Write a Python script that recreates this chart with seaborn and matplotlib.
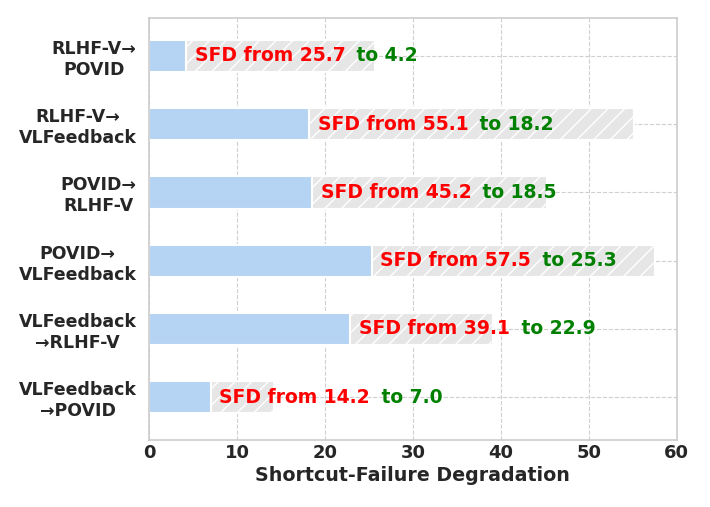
import matplotlib
matplotlib.use("Agg")
import matplotlib.pyplot as plt
import seaborn as sns
import pandas as pd

categories = ["RLHF-V→\nPOVID", "RLHF-V→\nVLFeedback", "POVID→\nRLHF-V",
              "POVID→\nVLFeedback", "VLFeedback\n→RLHF-V", "VLFeedback\n→POVID"]
sfd_before = [25.7, 55.1, 45.2, 57.5, 39.1, 14.2]
sfd_after = [4.2, 18.2, 18.5, 25.3, 22.9, 7.0]

df = pd.DataFrame({"cat": categories, "before": sfd_before, "after": sfd_after})

sns.set_theme(style="whitegrid")
plt.rcParams["font.family"] = ["DejaVu Sans"]
plt.rcParams["hatch.color"] = "white"
plt.rcParams["hatch.linewidth"] = 1.0

fig, ax = plt.subplots(figsize=(7.1, 5.07), dpi=100)
fig.subplots_adjust(left=0.21, right=0.953, top=0.965, bottom=0.133)

sns.barplot(data=df, y="cat", x="before", orient="h", color="#e6e6e6",
            width=0.47, edgecolor="white", linewidth=1.5, hatch="//", ax=ax,
            saturation=1)
sns.barplot(data=df, y="cat", x="after", orient="h", color="#b5d4f4",
            width=0.47, edgecolor="white", linewidth=1.5, ax=ax, saturation=1)

for i, (b, a) in enumerate(zip(sfd_before, sfd_after)):
    t = ax.text(a + 1.0, i, f"SFD from {b:.1f}", color="red", fontsize=13.5,
                fontweight="bold", va="center", ha="left")
    ax.annotate(f" to {a:.1f}", xy=(1, 0.5), xycoords=t, xytext=(3.5, 0),
                textcoords="offset points", color="green", fontsize=13.5,
                fontweight="bold", va="center", ha="left")

ax.set_xlim(0, 60)
ax.set_ylim(5.62, -0.56)
ax.set_xticks([0, 10, 20, 30, 40, 50, 60])
ax.grid(True, axis="both", linestyle="--", color="#d0d0d0", linewidth=0.8)
ax.set_axisbelow(True)
for s in ax.spines.values():
    s.set_color("#cccccc")
    s.set_linewidth(1.2)
ax.tick_params(axis="x", length=0, pad=3)
ax.tick_params(axis="y", length=0, pad=9)
ax.set_ylabel("")
ax.set_xlabel("Shortcut-Failure Degradation", fontsize=13.7, fontweight="bold",
              color="#262626", labelpad=3)
for lab in ax.get_xticklabels():
    lab.set_fontweight("bold")
    lab.set_fontsize(13)
    lab.set_color("#262626")
for lab in ax.get_yticklabels():
    lab.set_fontweight("bold")
    lab.set_fontsize(12.5)
    lab.set_color("#262626")
    lab.set_multialignment("center")

fig.savefig("out.png", dpi=100)
